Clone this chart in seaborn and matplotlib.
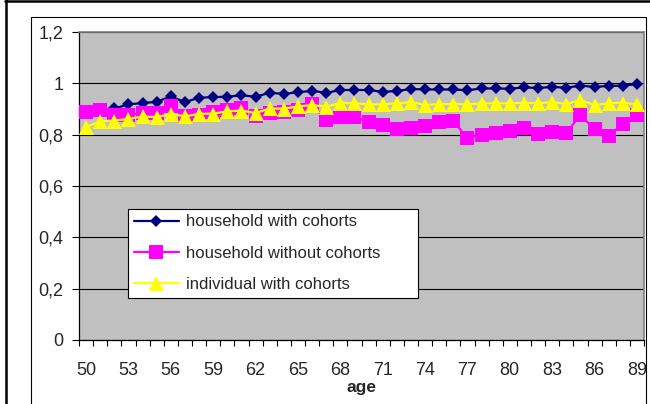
import matplotlib
matplotlib.use("Agg")
import matplotlib.pyplot as plt
from matplotlib.lines import Line2D
import seaborn as sns
import pandas as pd

ages = list(range(50, 90))
household_with = [0.885, 0.893, 0.902, 0.918, 0.923, 0.928, 0.949, 0.927, 0.944, 0.946,
                  0.948, 0.953, 0.948, 0.963, 0.959, 0.965, 0.971, 0.963, 0.974, 0.974,
                  0.974, 0.967, 0.970, 0.978, 0.976, 0.976, 0.976, 0.973, 0.980, 0.980,
                  0.979, 0.984, 0.982, 0.986, 0.983, 0.991, 0.986, 0.990, 0.991, 0.997]
household_without = [0.889, 0.897, 0.876, 0.878, 0.884, 0.884, 0.911, 0.872, 0.878, 0.888,
                     0.896, 0.903, 0.874, 0.884, 0.889, 0.895, 0.918, 0.856, 0.867, 0.869,
                     0.851, 0.837, 0.824, 0.827, 0.835, 0.851, 0.854, 0.786, 0.800, 0.808,
                     0.813, 0.827, 0.801, 0.812, 0.808, 0.876, 0.821, 0.795, 0.842, 0.878]
individual_with = [0.829, 0.852, 0.855, 0.861, 0.871, 0.868, 0.881, 0.871, 0.881, 0.882,
                   0.891, 0.894, 0.884, 0.902, 0.901, 0.910, 0.915, 0.909, 0.924, 0.922,
                   0.918, 0.918, 0.922, 0.927, 0.916, 0.918, 0.920, 0.918, 0.922, 0.922,
                   0.922, 0.924, 0.922, 0.927, 0.919, 0.935, 0.915, 0.922, 0.925, 0.918]
series_names = ["household with cohorts", "household without cohorts", "individual with cohorts"]
x_tick_labels = ["50", "53", "56", "59", "62", "65", "68", "71", "74", "77", "80", "83", "86", "89"]
y_ticks = [0, 0.2, 0.4, 0.6, 0.8, 1.0, 1.2]
y_tick_labels = ["0", "0,2", "0,4", "0,6", "0,8", "1", "1,2"]

sns.set_style("white")
plt.rcParams['font.family'] = ['Liberation Sans', 'DejaVu Sans']

fig = plt.figure(figsize=(6.5, 4.04), dpi=100)
W, H = 650, 404
left, right, top, bottom = 79, 644, 32, 340
ax = fig.add_axes([left / W, 1 - bottom / H, (right - left) / W, (bottom - top) / H])
ax.set_facecolor("#C0C0C0")

df = pd.DataFrame({"age": ages, series_names[0]: household_with,
                   series_names[1]: household_without, series_names[2]: individual_with})

styles = [
    dict(color="#000080", marker="D", markersize=6.4),
    dict(color="#FF00FF", marker="s", markersize=10.2),
    dict(color="#FFFF00", marker="^", markersize=10.8),
]
for i, (name, st) in enumerate(zip(series_names, styles)):
    sns.lineplot(data=df, x="age", y=name, ax=ax, color=st["color"], marker=st["marker"],
                 markersize=st["markersize"], markeredgecolor=st["color"], markeredgewidth=0,
                 linewidth=1.6, label=name, zorder=3 + i)

ax.set_xlim(49.5, 89.5)
ax.set_ylim(0, 1.2)
ax.set_yticks(y_ticks)
ax.set_yticklabels(y_tick_labels)
ax.yaxis.grid(True, color="black", linewidth=0.8)
ax.set_axisbelow(True)

ax.set_xticks([int(t) for t in x_tick_labels])
ax.set_xticklabels(x_tick_labels)
ax.set_xticks([a - 0.5 for a in ages] + [ages[-1] + 0.5], minor=True)
ax.tick_params(axis="x", which="major", length=0, pad=16, labelsize=13)
ax.tick_params(axis="x", which="minor", length=4, width=0.8, direction="out", color="black", bottom=True)
ax.tick_params(axis="y", which="major", length=5, width=0.8, direction="out", color="black",
               pad=6, labelsize=13, left=True)

ax.set_xlabel("age", fontsize=12.5, fontweight="bold", labelpad=0.5)
ax.set_ylabel("")

for s in ["left", "bottom"]:
    ax.spines[s].set_color("black")
    ax.spines[s].set_linewidth(0.9)
for s in ["top", "right"]:
    ax.spines[s].set_color("#808080")
    ax.spines[s].set_linewidth(1.2)
    ax.spines[s].set_visible(True)

lx0 = (128 - left) / (right - left)
ly0 = (bottom - 298) / (bottom - top)
lw_ = (418 - 128) / (right - left)
lh_ = (298 - 209) / (bottom - top)
leg = ax.legend(loc="lower left", bbox_to_anchor=(lx0, ly0, lw_, lh_), mode="expand",
                borderaxespad=0, fontsize=12, frameon=True, fancybox=False, framealpha=1,
                edgecolor="black", handlelength=2.7, handletextpad=0.4, labelspacing=0.98,
                borderpad=0.35)
leg.get_frame().set_linewidth(0.8)
leg.set_zorder(10)

# chart borders (outer frame and chart area)
def fline(xs, ys, lw, c):
    fig.add_artist(Line2D([x / W for x in xs], [1 - y / H for y in ys], transform=fig.transFigure,
                          color=c, linewidth=lw))

fline([5.5, 5.5], [0, 404], 1.8, "black")
fline([5, 650], [1.2, 1.2], 1.8, "black")
fline([31, 31], [17, 404], 0.8, "black")
fline([31, 646], [17, 17], 0.8, "black")
fline([646, 646], [17, 404], 0.8, "black")

fig.savefig("out.png", dpi=100)
